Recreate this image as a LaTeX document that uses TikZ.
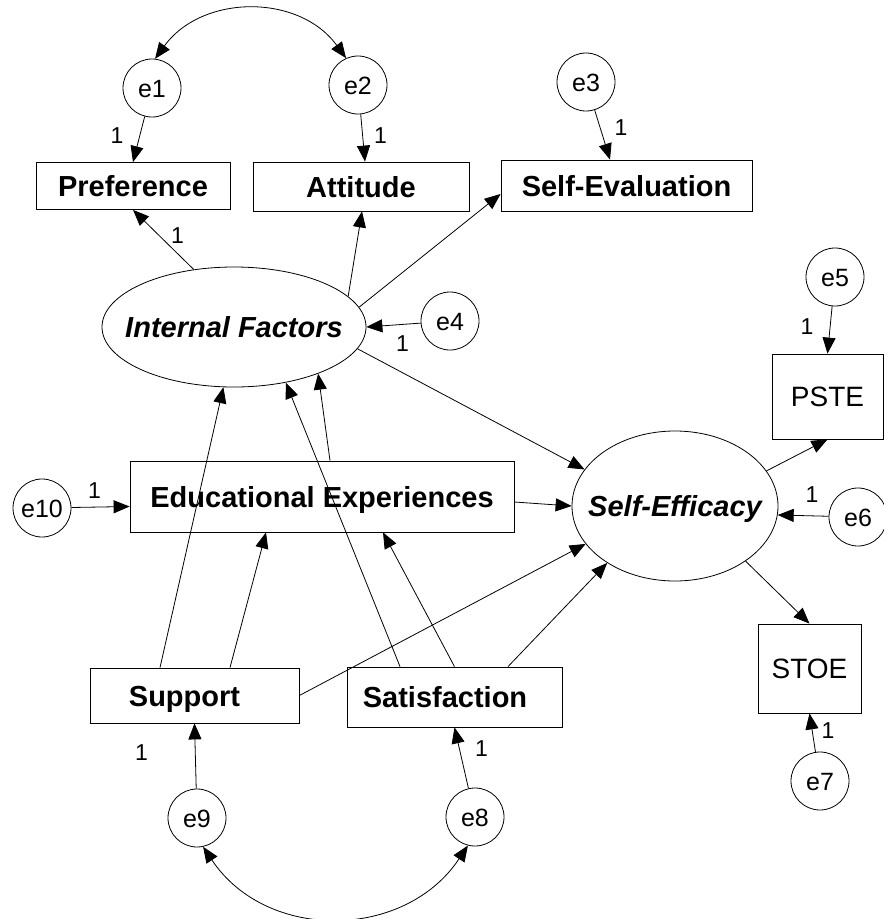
\documentclass[tikz,border=0pt]{standalone}
\usepackage{fontspec}
\setmainfont{Liberation Sans}
\usetikzlibrary{arrows.meta,shapes.geometric,calc}
\begin{document}
\begin{tikzpicture}[x=1pt,y=1pt,
  every node/.style={inner sep=0pt},
  obs/.style={draw, rectangle, line width=0.8pt, text height=21pt, text depth=0pt,
    font=\fontsize{29}{34}\selectfont\bfseries},
  obsr/.style={draw, rectangle, line width=0.8pt, text height=20pt, text depth=0pt,
    font=\fontsize{28}{33}\selectfont},
  lat/.style={draw, ellipse, line width=0.8pt, text height=21pt, text depth=0pt,
    font=\fontsize{29}{34}\selectfont\bfseries\itshape},
  err/.style={draw, circle, minimum size=58pt, line width=0.8pt, text height=18pt, text depth=0pt,
    font=\fontsize{25}{30}\selectfont},
  one/.style={font=\fontsize{23}{28}\selectfont},
  arr/.style={-{Triangle[length=16pt,width=13pt]}, line width=0.8pt},
  dbl/.style={{Triangle[length=16pt,width=13pt]}-{Triangle[length=16pt,width=13pt]}, line width=0.8pt}
]
\useasboundingbox (0,0) rectangle (884,-919);

% observed boxes
\node[obs, minimum width=194pt, minimum height=47pt] (pref) at (133,-186) {Preference};
\node[obs, minimum width=216pt, minimum height=49pt] (att) at (361,-186.5) {Attitude};
\node[obs, minimum width=251pt, minimum height=51pt] (seval) at (626.5,-185.5) {Self-Evaluation};
\node[obs, minimum width=384pt, minimum height=71pt] (ee) at (322,-496.5) {Educational Experiences};
\node[obs, minimum width=209pt, minimum height=55pt] (sup) at (194.5,-695.5) {Support\hspace*{20pt}};
\node[obs, minimum width=215pt, minimum height=60pt] (sat) at (454.5,-697) {Satisfaction\hspace*{19pt}};
\node[obsr, minimum width=111pt, minimum height=85pt] (pste) at (827.5,-396.5) {PSTE};
\node[obsr, minimum width=103pt, minimum height=89pt] (stoe) at (809.5,-668.5) {STOE};

% latent variables
\node[lat, minimum width=264pt, minimum height=120pt] (if) at (234,-327) {\makebox[0pt]{Internal Factors}};
\node[lat, minimum width=206pt, minimum height=150pt] (se) at (675,-506) {\makebox[0pt]{Self-Efficacy}};

% error terms
\node[err] (e1) at (152,-88) {e1};
\node[err] (e2) at (358,-85) {e2};
\node[err] (e3) at (586,-82) {e3};
\node[err] (e4) at (450,-321) {e4};
\node[err] (e5) at (835,-277) {e5};
\node[err] (e6) at (858,-517) {e6};
\node[err] (e7) at (820,-781) {e7};
\node[err] (e8) at (475,-817) {e8};
\node[err] (e9) at (197,-818) {e9};
\node[err] (e10) at (42,-508) {e10};

% paths
\draw[arr] (e1) -- (pref.north);
\draw[arr] (e2) -- ($(att.north)+(4,0)$);
\draw[arr] (e3) -- ($(seval.north)+(-16.5,0)$);
\draw[arr] (if.125) -- (pref.south);
\draw[arr] (if.15) -- ($(att.south)+(1,0)$);
\draw[arr] (if.9) -- ($(seval.west)+(0,-8.5)$);
\draw[arr] (e4) -- (if.east);
\draw[arr] (if.-10) -- (se.158);
\draw[arr] ($(ee.east)+(0,-5.5)$) -- (se.west);
\draw[arr] (e10) -- ($(ee.west)+(0,-10)$);
\draw[arr] ($(sup.north)+(-34.5,0)$) -- (if.260);
\draw[arr] ($(sup.north)+(35.5,0)$) -- ($(ee.south)+(-56,0)$);
\draw[arr] (sup.east) -- (se.203);
\draw[arr] ($(sat.north)+(-54.5,0)$) -- (if.-47);
\draw[arr] ($(ee.north)+(8,0)$) -- (if.-29);
\draw[arr] (sat.north) -- ($(ee.south)+(61,0)$);
\draw[arr] ($(sat.north)+(53.5,0)$) -- (se.220);
\draw[arr] (se.21) -- (pste.south);
\draw[arr] (e5) -- (pste.north);
\draw[arr] (e6) -- (se.-5);
\draw[arr] (se.-38) -- (stoe.north);
\draw[arr] (e7) -- (stoe.south);
\draw[arr] (e9) -- (sup.south);
\draw[arr] (e8) -- (sat.south);

% covariances
\draw[dbl] (e1.84) .. controls +(54:80) and +(126:80) .. (e2.114);
\draw[dbl] (e9.-78) .. controls +(-56.4:114) and +(-123.6:114) .. (e8.-104);

% weight labels
\node[one] (l1) at (117,-135.5) {1};
\node[one] (l2) at (380.5,-135.5) {1};
\node[one] (l3) at (621,-127.5) {1};
\node[one] (l4) at (177.5,-236) {1};
\node[one] (l5) at (402.5,-344) {1};
\node[one] (l6) at (807,-327) {1};
\node[one] (l7) at (812,-495) {1};
\node[one] (l8) at (828,-731) {1};
\node[one] (l9) at (94.5,-491) {1};
\node[one] (l10) at (141.5,-753) {1};
\node[one] (l11) at (481.5,-749) {1};
\end{tikzpicture}
\end{document}
